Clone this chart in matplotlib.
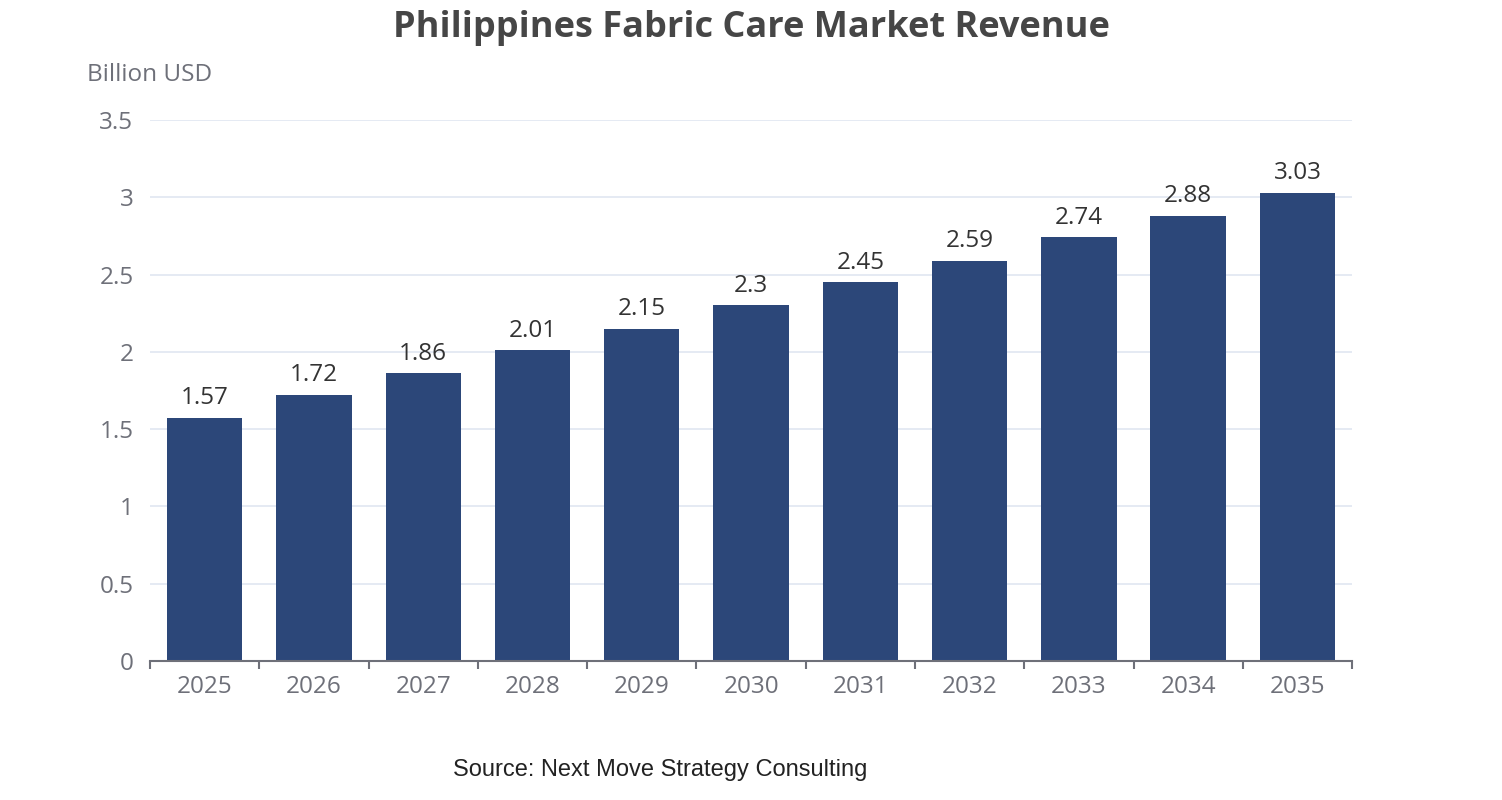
import matplotlib
matplotlib.use("Agg")
import matplotlib.pyplot as plt
import numpy as np

anos = ["2025", "2026", "2027", "2028", "2029", "2030",
        "2031", "2032", "2033", "2034", "2035"]
ingresos = [1.57, 1.72, 1.86, 2.01, 2.15, 2.3, 2.45, 2.59, 2.74, 2.88, 3.03]
ticks_y = [0, 0.5, 1, 1.5, 2, 2.5, 3, 3.5]
etiquetas_y = ["0", "0.5", "1", "1.5", "2", "2.5", "3", "3.5"]

plt.rcParams['font.family'] = ['Open Sans', 'DejaVu Sans']

fig = plt.figure(figsize=(15.02, 8.0), dpi=100)
ax = fig.add_axes([0.0999, 0.174, 0.8003, 0.676])

x = np.arange(len(anos))
ax.bar(x, ingresos, width=0.69, color="#2c4779", zorder=2)
for xi, v in zip(x, ingresos):
    ax.text(xi, v + 0.05, f"{v:g}", ha="center", va="bottom",
            fontsize=17.5, color="#333333")

ax.set_xlim(-0.5, len(anos) - 0.5)
ax.set_ylim(0, 3.5)
ax.set_yticks(ticks_y)
ax.set_yticklabels(etiquetas_y)
ax.set_xticks(x)
ax.set_xticklabels(anos)
ax.set_xticks(np.arange(len(anos) + 1) - 0.5, minor=True)

ax.grid(axis="y", color="#e0e6f1", linewidth=1.2, zorder=0)
for lado in ["top", "right", "left"]:
    ax.spines[lado].set_visible(False)
ax.spines["bottom"].set_color("#6e7079")
ax.spines["bottom"].set_linewidth(1.5)

ax.tick_params(axis="y", length=0, pad=12, labelsize=17.5, labelcolor="#6e7079")
ax.tick_params(axis="x", which="major", length=0, pad=10, labelsize=17.5,
               labelcolor="#6e7079")
ax.tick_params(axis="x", which="minor", length=6, width=1.5, color="#6e7079")

fig.text(0.5, 0.954, "Philippines Fabric Care Market Revenue", ha="center",
         va="baseline", fontsize=26, fontweight="bold", color="#464646")
fig.text(0.058, 0.906, "Billion USD", ha="left", va="center",
         fontsize=17.5, color="#6e7079")
fig.text(0.4396, 0.03, "Source: Next Move Strategy Consulting", ha="center",
         va="baseline", fontsize=17, color="#222222",
         family=["Liberation Sans", "DejaVu Sans"])

fig.savefig("out.png", dpi=100)
